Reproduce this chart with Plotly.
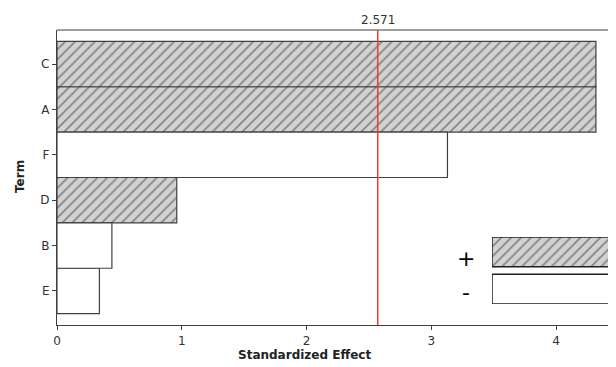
import plotly.graph_objects as go

terms = ["E", "B", "D", "F", "A", "C"]
effects = [0.34, 0.44, 0.96, 3.13, 4.32, 4.32]
signs = ["-", "-", "+", "-", "+", "+"]
t_crit = 2.571
x_ticks = [0, 1, 2, 3, 4]

FONT = "DejaVu Sans"
LINE = "#404040"
HATCH_BG = "#d2d2d2"
HATCH_FG = "#3a3a3a"

pos_t = [t for t, s in zip(terms, signs) if s == "+"]
pos_v = [v for v, s in zip(effects, signs) if s == "+"]
neg_t = [t for t, s in zip(terms, signs) if s == "-"]
neg_v = [v for v, s in zip(effects, signs) if s == "-"]

hatch = dict(shape="/", fgcolor=HATCH_FG, bgcolor=HATCH_BG, size=7, solidity=0.25, fillmode="overlay")

fig = go.Figure()
fig.add_trace(go.Bar(y=pos_t, x=pos_v, orientation="h", width=1,
                     marker=dict(color=HATCH_BG, pattern=hatch, line=dict(color=LINE, width=1.2)),
                     showlegend=False, hoverinfo="skip"))
fig.add_trace(go.Bar(y=neg_t, x=neg_v, orientation="h", width=1,
                     marker=dict(color="white", line=dict(color=LINE, width=1.2)),
                     showlegend=False, hoverinfo="skip"))

# legend boxes drawn on an inset axis
leg_labels = ["-", "+"]
fig.add_trace(go.Bar(y=["+"], x=[1], orientation="h", width=0.8, xaxis="x2", yaxis="y2",
                     marker=dict(color=HATCH_BG, pattern=hatch, line=dict(color="#202020", width=1.5)),
                     showlegend=False, hoverinfo="skip"))
fig.add_trace(go.Bar(y=["-"], x=[1], orientation="h", width=0.8, xaxis="x2", yaxis="y2",
                     marker=dict(color="white", line=dict(color="#202020", width=1.5)),
                     showlegend=False, hoverinfo="skip"))

# page body has an 8px margin; figure is offset by (8, 8) on screen
OFF = 8
W, H = 616 - OFF, 367 - OFF
L, T = 57 - OFF, 30 - OFF
B = H - (325 - OFF)
plot_w = W - L
plot_h = H - T - B
PLOT_BOTTOM = 325  # screen px


def px_x(x):
    return (x - 57) / plot_w


def px_y(y):
    return (PLOT_BOTTOM - y) / plot_h


def note(text, x, y, size=12, color="#222222", **kw):
    return dict(text=text, x=px_x(x), xref="paper", y=px_y(y), yref="paper",
                xanchor="center", yanchor="middle", showarrow=False,
                font=dict(size=size, color=color), **kw)


fig.update_layout(
    width=W, height=H,
    margin=dict(l=L, r=0, t=T, b=B),
    paper_bgcolor="white", plot_bgcolor="white",
    barmode="overlay",
    font=dict(family=FONT, size=11, color="#333333"),
    xaxis=dict(range=[0, 4.481], tickvals=x_ticks, ticks="outside", ticklen=4, tickcolor=LINE,
               showline=True, linecolor=LINE, linewidth=1.2, showgrid=False, zeroline=False,
               automargin=False, tickfont=dict(size=12, color="#333333")),
    yaxis=dict(type="category", categoryorder="array", categoryarray=terms, range=[-0.75, 5.75],
               ticks="outside", ticklen=4, tickcolor=LINE, showline=True, linecolor=LINE,
               linewidth=1.2, showgrid=False, zeroline=False, automargin=False,
               tickfont=dict(size=12, color="#333333")),
    xaxis2=dict(domain=[px_x(492), px_x(614)], range=[0, 1], visible=False, anchor="y2"),
    yaxis2=dict(domain=[px_y(304), px_y(237)], type="category", categoryorder="array",
                categoryarray=leg_labels, range=[-0.4, 1.4], visible=False, anchor="x2"),
    shapes=[
        dict(type="line", xref="paper", yref="paper", x0=0, x1=1, y0=1, y1=1,
             line=dict(color=LINE, width=1.2)),
        dict(type="line", xref="x", yref="paper", x0=t_crit, x1=t_crit, y0=0, y1=1,
             line=dict(color="#f03a3a", width=1.5), layer="above"),
    ],
    annotations=[
        dict(text=str(t_crit), x=t_crit, xref="x", y=px_y(20), yref="paper",
             xanchor="center", yanchor="middle", showarrow=False,
             font=dict(size=12, color="#333333")),
        note("<b>Standardized Effect</b>", 304, 355),
        note("<b>Term</b>", 20, 177, textangle=-90),
        note("+", 466, 258, size=22, color="black"),
        note("-", 466, 292, size=22, color="black"),
    ],
)

fig.write_html("out.html")
